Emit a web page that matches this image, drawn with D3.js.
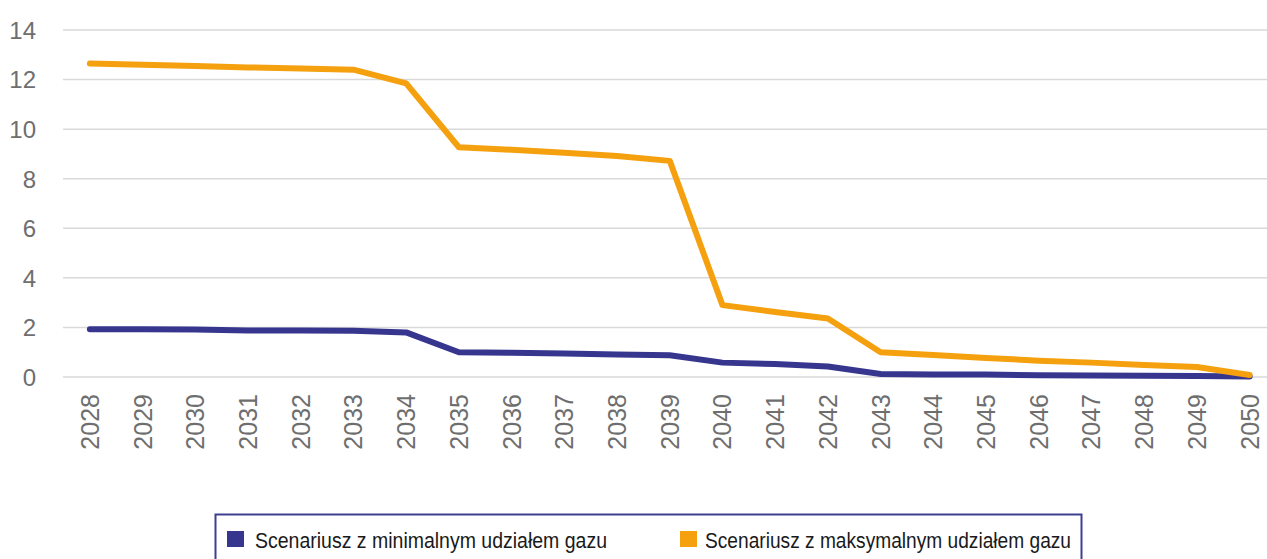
<!DOCTYPE html>
<html>
<head>
<meta charset="utf-8">
<script src="https://cdn.jsdelivr.net/npm/d3@7/dist/d3.min.js"></script>
<style>
  html, body { margin: 0; padding: 0; background: #ffffff; }
  svg { display: block; }
  .tick text { font-family: "Liberation Sans", Arial, sans-serif; fill: #6e6e6e; }
</style>
</head>
<body>
<svg id="chart" width="1267" height="559"></svg>
<script>
// Years on the horizontal axis
const years = ["2028","2029","2030","2031","2032","2033","2034","2035","2036","2037","2038","2039",
               "2040","2041","2042","2043","2044","2045","2046","2047","2048","2049","2050"];

// Scenario with minimal gas share
const minGas = [1.93, 1.93, 1.92, 1.88, 1.88, 1.87, 1.80, 1.00, 0.98, 0.95, 0.91, 0.88,
                0.58, 0.52, 0.42, 0.12, 0.10, 0.10, 0.07, 0.06, 0.05, 0.04, 0.02];

// Scenario with maximal gas share
const maxGas = [12.65, 12.60, 12.55, 12.49, 12.45, 12.40, 11.85, 9.27, 9.17, 9.05, 8.92, 8.72,
                2.90, 2.62, 2.36, 1.00, 0.89, 0.77, 0.66, 0.58, 0.48, 0.40, 0.08];

const yTicks = [0, 2, 4, 6, 8, 10, 12, 14];

const seriesNames = ["Scenariusz z minimalnym udziałem gazu", "Scenariusz z maksymalnym udziałem gazu"];
const seriesColors = ["#37368f", "#f5a00f"];

const svg = d3.select("#chart");

const x = d3.scaleBand().domain(years).range([63.5, 1276]);
const y = d3.scaleLinear().domain([0, 14]).range([377, 30]);

// Horizontal gridlines
svg.append("g")
  .selectAll("line")
  .data(yTicks)
  .join("line")
  .attr("x1", 63)
  .attr("x2", 1267)
  .attr("y1", d => y(d))
  .attr("y2", d => y(d))
  .attr("stroke", "#d9d9d9")
  .attr("stroke-width", 1.5);

// Y axis labels
const yAxis = svg.append("g")
  .attr("transform", "translate(36,0)")
  .call(d3.axisLeft(y).tickValues(yTicks).tickSize(0).tickPadding(0));
yAxis.select(".domain").remove();
yAxis.selectAll("text").attr("font-size", 24).attr("dy", "0.35em");

// X axis labels, rotated
const xAxis = svg.append("g")
  .attr("transform", "translate(0,377)")
  .call(d3.axisBottom(x).tickSize(0).tickPadding(0));
xAxis.select(".domain").remove();
xAxis.selectAll("text")
  .attr("font-size", 25)
  .attr("transform", "rotate(-90)")
  .attr("text-anchor", "end")
  .attr("x", -17)
  .attr("y", 0)
  .attr("dy", "0.36em");

// Lines
const line = d3.line()
  .x((d, i) => x(years[i]) + x.bandwidth() / 2)
  .y(d => y(d));

[minGas, maxGas].forEach((vals, i) => {
  svg.append("path")
    .datum(vals)
    .attr("d", line)
    .attr("fill", "none")
    .attr("stroke", seriesColors[i])
    .attr("stroke-width", 6)
    .attr("stroke-linejoin", "round")
    .attr("stroke-linecap", "round");
});

// Legend
const legend = svg.append("g");
legend.append("rect")
  .attr("x", 215.5)
  .attr("y", 514.5)
  .attr("width", 866)
  .attr("height", 70)
  .attr("fill", "none")
  .attr("stroke", "#3f3f90")
  .attr("stroke-width", 2);

const legendItems = [
  { sx: 227, tx: 255, tw: 352 },
  { sx: 680, tx: 705, tw: 366 }
];
legendItems.forEach((it, i) => {
  legend.append("rect")
    .attr("x", it.sx)
    .attr("y", 531)
    .attr("width", 17)
    .attr("height", 16)
    .attr("fill", seriesColors[i]);
  legend.append("text")
    .attr("x", it.tx)
    .attr("y", 548)
    .attr("font-family", "'Liberation Sans Narrow', 'Liberation Sans', Arial, sans-serif")
    .attr("font-size", 22)
    .attr("fill", "#1a1a1a")
    .attr("textLength", it.tw)
    .attr("lengthAdjust", "spacingAndGlyphs")
    .text(seriesNames[i]);
});
</script>
</body>
</html>
